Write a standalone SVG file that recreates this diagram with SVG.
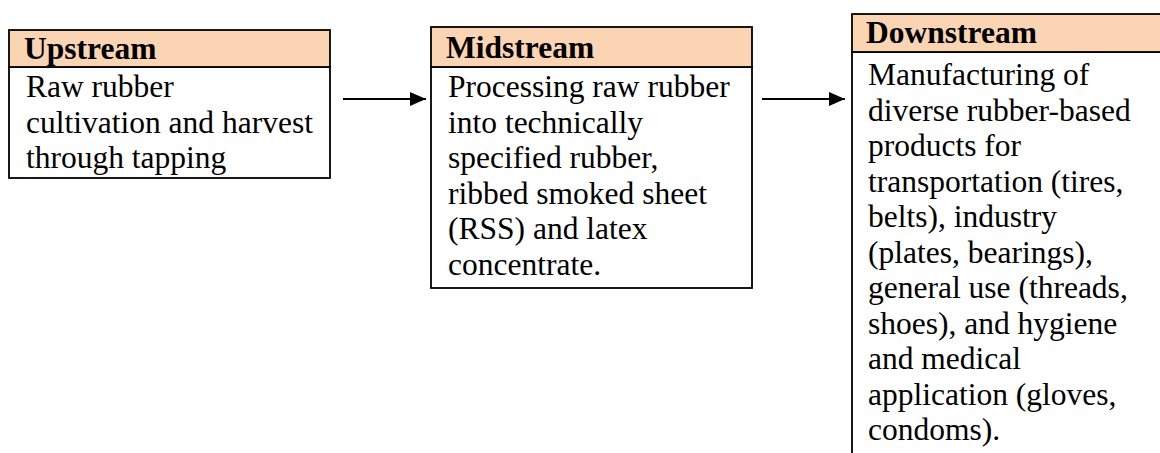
<svg xmlns="http://www.w3.org/2000/svg" width="1160" height="453" viewBox="0 0 1160 453">
<style>
.hd{fill:#FBD4B4;stroke:#000;stroke-width:1.8}
.bd{fill:#fff;stroke:#000;stroke-width:1.8}
.ht{font-family:"Liberation Serif","Times New Roman",serif;font-size:31.5px;font-weight:bold;fill:#000}
.tx{font-family:"Liberation Serif","Times New Roman",serif;font-size:31.5px;fill:#000}
.cn{stroke:#000;stroke-width:1.8;fill:none}
</style>
<defs>
<marker id="ah" markerWidth="16" markerHeight="14" refX="16" refY="7" orient="auto" markerUnits="userSpaceOnUse">
<path d="M0,0 L16,7 L0,14 Z" fill="#000"/>
</marker>
</defs>
<rect width="1160" height="453" fill="#fff"/>
<g id="upstream">
<rect class="bd" x="9" y="67" width="321" height="111"/>
<rect class="hd" x="9" y="30" width="321" height="37"/>
<text class="ht" x="24" y="59">Upstream</text>
<text class="tx" x="26" y="97">Raw rubber</text>
<text class="tx" x="26" y="132.5">cultivation and harvest</text>
<text class="tx" x="26" y="168">through tapping</text>
</g>
<g id="midstream">
<rect class="bd" x="431" y="67" width="321" height="221"/>
<rect class="hd" x="431" y="27" width="321" height="40"/>
<text class="ht" x="446" y="58">Midstream</text>
<text class="tx" x="448" y="97">Processing raw rubber</text>
<text class="tx" x="448" y="132.5">into technically</text>
<text class="tx" x="448" y="168">specified rubber,</text>
<text class="tx" x="448" y="203.5">ribbed smoked sheet</text>
<text class="tx" x="448" y="239">(RSS) and latex</text>
<text class="tx" x="448" y="274.5">concentrate.</text>
</g>
<g id="downstream">
<rect class="bd" x="852" y="52" width="323" height="410"/>
<rect class="hd" x="852" y="14" width="323" height="38"/>
<text class="ht" x="866" y="43">Downstream</text>
<text class="tx" x="868" y="85">Manufacturing of</text>
<text class="tx" x="868" y="120.5">diverse rubber-based</text>
<text class="tx" x="868" y="156">products for</text>
<text class="tx" x="868" y="191.5">transportation (tires,</text>
<text class="tx" x="868" y="227">belts), industry</text>
<text class="tx" x="868" y="262.5">(plates, bearings),</text>
<text class="tx" x="868" y="298">general use (threads,</text>
<text class="tx" x="868" y="333.5">shoes), and hygiene</text>
<text class="tx" x="868" y="369">and medical</text>
<text class="tx" x="868" y="404.5">application (gloves,</text>
<text class="tx" x="868" y="440">condoms).</text>
</g>
<g id="connectors">
<line class="cn" x1="343" y1="99" x2="426" y2="99" marker-end="url(#ah)"/>
<line class="cn" x1="762" y1="99" x2="845" y2="99" marker-end="url(#ah)"/>
</g>
</svg>
